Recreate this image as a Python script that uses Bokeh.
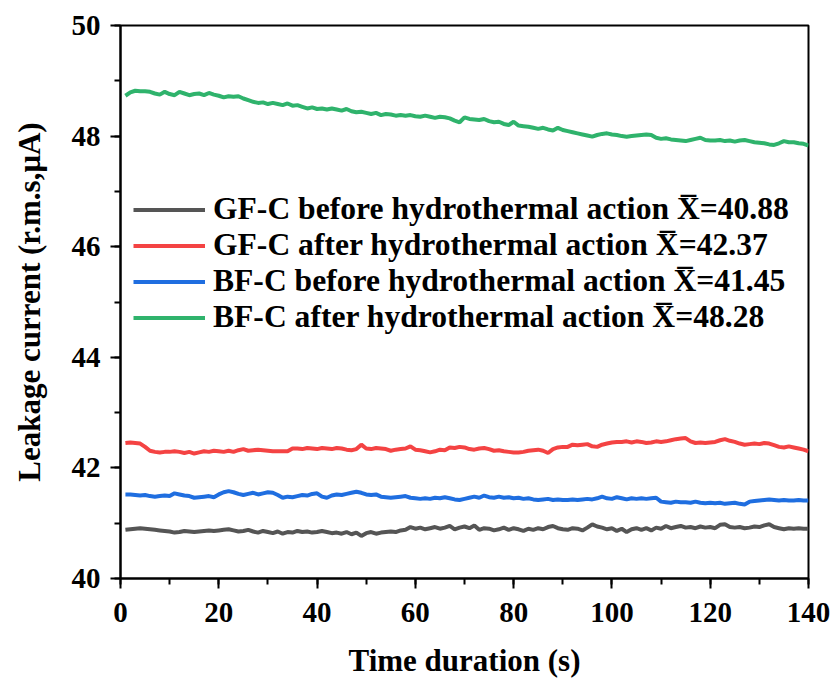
from bokeh.plotting import figure
from bokeh.models import Legend, LegendItem, Range1d, SingleIntervalTicker
from bokeh.embed import file_html
from bokeh.resources import INLINE

# Time axis (s), one reading per second
time_s = list(range(1, 141))

gf_before = [
    40.88, 40.89, 40.90, 40.91, 40.90, 40.89, 40.88, 40.87, 40.86, 40.85,
    40.83, 40.84, 40.86, 40.85, 40.84, 40.85, 40.86, 40.87, 40.86, 40.87,
    40.88, 40.89, 40.87, 40.85, 40.86, 40.88, 40.85, 40.83, 40.86, 40.84,
    40.82, 40.85, 40.81, 40.84, 40.83, 40.86, 40.84, 40.85, 40.83, 40.84,
    40.86, 40.84, 40.82, 40.83, 40.81, 40.84, 40.80, 40.83, 40.77, 40.82,
    40.84, 40.81, 40.83, 40.84, 40.85, 40.84, 40.87, 40.88, 40.93, 40.90,
    40.92, 40.89, 40.91, 40.93, 40.90, 40.92, 40.95, 40.89, 40.92, 40.94,
    40.91, 40.96, 40.88, 40.91, 40.90, 40.87, 40.89, 40.92, 40.88, 40.91,
    40.89, 40.86, 40.90, 40.88, 40.91, 40.89, 40.93, 40.95, 40.91, 40.89,
    40.88, 40.91, 40.90, 40.87, 40.92, 40.98, 40.94, 40.92, 40.89, 40.91,
    40.86, 40.90, 40.84, 40.89, 40.91, 40.88, 40.91, 40.87, 40.92, 40.90,
    40.95, 40.91, 40.93, 40.95, 40.92, 40.93, 40.91, 40.94, 40.92, 40.93,
    40.91, 40.97, 40.98, 40.93, 40.92, 40.93, 40.91, 40.92, 40.94, 40.93,
    40.96, 40.98, 40.93, 40.91, 40.89, 40.91, 40.90, 40.91, 40.90, 40.90,
]

gf_after = [
    42.45, 42.46, 42.45, 42.44, 42.38, 42.31, 42.29, 42.28, 42.29, 42.29,
    42.30, 42.29, 42.27, 42.29, 42.26, 42.28, 42.30, 42.29, 42.31, 42.30,
    42.29, 42.31, 42.29, 42.32, 42.34, 42.31, 42.32, 42.33, 42.32, 42.31,
    42.30, 42.30, 42.30, 42.30, 42.35, 42.35, 42.34, 42.36, 42.35, 42.34,
    42.36, 42.35, 42.34, 42.36, 42.35, 42.33, 42.32, 42.34, 42.42, 42.35,
    42.34, 42.36, 42.35, 42.34, 42.31, 42.33, 42.34, 42.35, 42.39, 42.33,
    42.32, 42.30, 42.28, 42.30, 42.33, 42.32, 42.37, 42.36, 42.38, 42.37,
    42.34, 42.33, 42.35, 42.36, 42.34, 42.31, 42.32, 42.30, 42.29, 42.28,
    42.28, 42.29, 42.31, 42.32, 42.33, 42.31, 42.27, 42.34, 42.37, 42.38,
    42.38, 42.42, 42.41, 42.42, 42.43, 42.39, 42.38, 42.42, 42.44, 42.46,
    42.47, 42.47, 42.48, 42.46, 42.48, 42.47, 42.45, 42.46, 42.48, 42.47,
    42.48, 42.50, 42.52, 42.53, 42.54, 42.48, 42.45, 42.46, 42.45, 42.46,
    42.47, 42.50, 42.52, 42.49, 42.47, 42.44, 42.42, 42.43, 42.44, 42.43,
    42.45, 42.44, 42.41, 42.38, 42.37, 42.39, 42.37, 42.35, 42.33, 42.30,
]

bf_before = [
    41.52, 41.52, 41.51, 41.50, 41.51, 41.49, 41.48, 41.49, 41.50, 41.49,
    41.54, 41.52, 41.50, 41.49, 41.46, 41.47, 41.48, 41.49, 41.47, 41.52,
    41.56, 41.58, 41.56, 41.53, 41.51, 41.53, 41.55, 41.52, 41.54, 41.56,
    41.55, 41.51, 41.46, 41.48, 41.47, 41.49, 41.51, 41.50, 41.53, 41.54,
    41.48, 41.46, 41.50, 41.52, 41.51, 41.53, 41.55, 41.57, 41.55, 41.52,
    41.51, 41.52, 41.48, 41.47, 41.46, 41.47, 41.48, 41.49, 41.46, 41.45,
    41.44, 41.45, 41.44, 41.46, 41.45, 41.47, 41.45, 41.43, 41.42, 41.44,
    41.46, 41.48, 41.46, 41.50, 41.47, 41.46, 41.48, 41.46, 41.47, 41.45,
    41.46, 41.44, 41.45, 41.43, 41.42, 41.43, 41.44, 41.42, 41.43, 41.42,
    41.42, 41.43, 41.42, 41.43, 41.44, 41.43, 41.45, 41.48, 41.45, 41.44,
    41.47, 41.45, 41.43, 41.45, 41.44, 41.45, 41.44, 41.45, 41.46, 41.39,
    41.38, 41.37, 41.39, 41.38, 41.38, 41.37, 41.39, 41.37, 41.36, 41.37,
    41.36, 41.37, 41.35, 41.36, 41.37, 41.35, 41.34, 41.39, 41.40, 41.41,
    41.42, 41.43, 41.42, 41.41, 41.42, 41.41, 41.41, 41.42, 41.41, 41.41,
]

bf_after = [
    48.73, 48.79, 48.82, 48.81, 48.81, 48.80, 48.77, 48.75, 48.80, 48.76,
    48.74, 48.80, 48.77, 48.74, 48.76, 48.77, 48.74, 48.78, 48.75, 48.73,
    48.70, 48.72, 48.71, 48.72, 48.68, 48.65, 48.62, 48.60, 48.61, 48.58,
    48.60, 48.58, 48.56, 48.59, 48.55, 48.56, 48.53, 48.50, 48.52, 48.49,
    48.50, 48.48, 48.50, 48.48, 48.46, 48.49, 48.45, 48.43, 48.44, 48.42,
    48.40, 48.42, 48.38, 48.40, 48.39, 48.37, 48.38, 48.37, 48.38, 48.36,
    48.35, 48.37, 48.35, 48.33, 48.35, 48.34, 48.32, 48.28, 48.25, 48.34,
    48.31, 48.30, 48.29, 48.31, 48.27, 48.25, 48.26, 48.22, 48.20, 48.26,
    48.19, 48.18, 48.17, 48.15, 48.13, 48.15, 48.12, 48.10, 48.15, 48.11,
    48.09, 48.07, 48.05, 48.03, 48.01, 47.99, 48.02, 48.04, 48.05, 48.03,
    48.02, 48.00, 47.99, 48.00, 48.01, 48.02, 48.03, 48.02, 47.97, 47.95,
    47.96, 47.94, 47.93, 47.92, 47.91, 47.93, 47.95, 47.97, 47.93, 47.92,
    47.92, 47.93, 47.91, 47.92, 47.90, 47.92, 47.93, 47.91, 47.89, 47.88,
    47.87, 47.85, 47.84, 47.87, 47.91, 47.89, 47.89, 47.87, 47.86, 47.83,
]

series_labels = [
    "GF-C before hydrothermal action X\u0305=40.88",
    "GF-C after hydrothermal action X\u0305=42.37",
    "BF-C before hydrothermal action X\u0305=41.45",
    "BF-C after hydrothermal action X\u0305=48.28",
]
series_colors = ["#555555", "#f44343", "#1f6ee0", "#2fb36c"]
series_values = [gf_before, gf_after, bf_before, bf_after]

FONT = "Liberation Serif"

p = figure(
    width=834, height=680,
    x_range=Range1d(0, 140), y_range=Range1d(40, 50),
    output_backend="svg", toolbar_location=None,
    min_border_left=120, min_border_right=26,
    min_border_top=25, min_border_bottom=102,
    background_fill_color="white", border_fill_color="white",
)
p.outline_line_color = "black"
p.outline_line_width = 2
p.xgrid.visible = False
p.ygrid.visible = False

p.xaxis.ticker = SingleIntervalTicker(interval=20, num_minor_ticks=2)
p.yaxis.ticker = SingleIntervalTicker(interval=2, num_minor_ticks=2)
p.xaxis.axis_label = "Time duration (s)"
p.yaxis.axis_label = "Leakage current (r.m.s,\u03bcA)"

for ax in (p.xaxis[0], p.yaxis[0]):
    ax.axis_line_color = "black"
    ax.axis_line_width = 2
    ax.major_tick_line_color = "black"
    ax.major_tick_line_width = 2
    ax.minor_tick_line_color = "black"
    ax.minor_tick_line_width = 2
    ax.major_tick_in = 0
    ax.major_tick_out = 10
    ax.minor_tick_in = 0
    ax.minor_tick_out = 6
    ax.major_label_text_font = FONT
    ax.major_label_text_font_style = "bold"
    ax.major_label_text_font_size = "29px"
    ax.major_label_text_color = "black"
    ax.axis_label_text_font = FONT
    ax.axis_label_text_font_style = "bold"
    ax.axis_label_text_font_size = "31px"
    ax.axis_label_text_color = "black"

p.xaxis.major_label_standoff = 14
p.yaxis.major_label_standoff = 10
p.xaxis.axis_label_standoff = 18
p.yaxis.axis_label_standoff = 22

items = []
for label, color, vals in zip(series_labels, series_colors, series_values):
    r = p.line(time_s, vals, line_color=color, line_width=4)
    items.append(LegendItem(label=label, renderers=[r]))

legend = Legend(
    items=items,
    location=(13, 243),
    background_fill_alpha=0,
    border_line_alpha=0,
    label_text_font=FONT,
    label_text_font_style="bold",
    label_text_font_size="31.6px",
    label_text_color="black",
    glyph_width=72,
    glyph_height=35,
    label_height=35,
    label_standoff=8,
    spacing=0,
    padding=0,
    margin=0,
)
p.add_layout(legend, "center")

open("out.html", "w").write(file_html(p, INLINE))
